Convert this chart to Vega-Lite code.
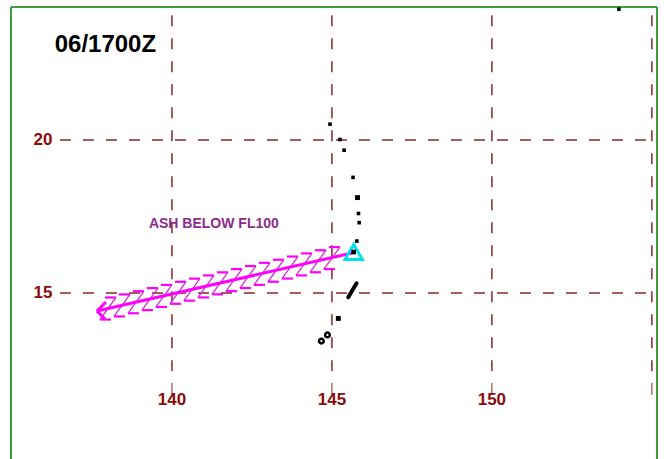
{
  "$schema": "https://vega.github.io/schema/vega-lite/v6.json",
  "width": 646,
  "height": 452,
  "padding": {"left": 11, "top": 7, "right": 7, "bottom": 0},
  "autosize": {"type": "none"},
  "background": "white",
  "config": {"view": {"stroke": null}},
  "datasets": {
    "grid": [
      {"lon": 140, "lat": 24.08, "lon2": 140, "lat2": 12.3},
      {"lon": 145, "lat": 24.08, "lon2": 145, "lat2": 12.3},
      {"lon": 150, "lat": 24.08, "lon2": 150, "lat2": 12.3},
      {"lon": 155, "lat": 24.08, "lon2": 155, "lat2": 12.3},
      {"lon": 136.5, "lat": 20, "lon2": 155.16, "lat2": 20},
      {"lon": 136.5, "lat": 15, "lon2": 155.16, "lat2": 15}
    ],
    "ticks": [
      {"lon": 140, "lat": 12.06, "lon2": 140, "lat2": 11.67},
      {"lon": 145, "lat": 12.06, "lon2": 145, "lat2": 11.67},
      {"lon": 150, "lat": 12.06, "lon2": 150, "lat2": 11.67},
      {"lon": 155, "lat": 12.06, "lon2": 155, "lat2": 11.67}
    ],
    "frame": [
      {"lon": 134.97, "lat": 9.575, "lon2": 134.97, "lat2": 24.35},
      {"lon": 134.97, "lat": 24.35, "lon2": 155.16, "lat2": 24.35},
      {"lon": 155.16, "lat": 9.575, "lon2": 155.16, "lat2": 24.35}
    ],
    "hatch_diag": [
      {"lon": 137.75, "lat": 14.134, "lon2": 138.25, "lat2": 14.854},
      {"lon": 138.188, "lat": 14.235, "lon2": 138.688, "lat2": 14.955},
      {"lon": 138.625, "lat": 14.339, "lon2": 139.125, "lat2": 15.059},
      {"lon": 139.063, "lat": 14.441, "lon2": 139.563, "lat2": 15.161},
      {"lon": 139.5, "lat": 14.545, "lon2": 140.0, "lat2": 15.265},
      {"lon": 139.938, "lat": 14.648, "lon2": 140.438, "lat2": 15.368},
      {"lon": 140.375, "lat": 14.751, "lon2": 140.875, "lat2": 15.471},
      {"lon": 140.813, "lat": 14.856, "lon2": 141.313, "lat2": 15.576},
      {"lon": 141.25, "lat": 14.957, "lon2": 141.75, "lat2": 15.677},
      {"lon": 141.688, "lat": 15.062, "lon2": 142.188, "lat2": 15.782},
      {"lon": 142.125, "lat": 15.163, "lon2": 142.625, "lat2": 15.883},
      {"lon": 142.563, "lat": 15.267, "lon2": 143.063, "lat2": 15.987},
      {"lon": 143.0, "lat": 15.369, "lon2": 143.5, "lat2": 16.089},
      {"lon": 143.438, "lat": 15.473, "lon2": 143.938, "lat2": 16.193},
      {"lon": 143.875, "lat": 15.575, "lon2": 144.375, "lat2": 16.295},
      {"lon": 144.313, "lat": 15.679, "lon2": 144.813, "lat2": 16.399},
      {"lon": 144.75, "lat": 15.781, "lon2": 145.25, "lat2": 16.501}
    ],
    "hatch_bar": [
      {"lon": 137.906, "lat": 14.854, "lon2": 138.25, "lat2": 14.854},
      {"lon": 137.75, "lat": 14.134, "lon2": 138.094, "lat2": 14.134},
      {"lon": 138.344, "lat": 14.955, "lon2": 138.688, "lat2": 14.955},
      {"lon": 138.188, "lat": 14.235, "lon2": 138.532, "lat2": 14.235},
      {"lon": 138.781, "lat": 15.059, "lon2": 139.125, "lat2": 15.059},
      {"lon": 138.625, "lat": 14.339, "lon2": 138.969, "lat2": 14.339},
      {"lon": 139.219, "lat": 15.161, "lon2": 139.563, "lat2": 15.161},
      {"lon": 139.063, "lat": 14.441, "lon2": 139.407, "lat2": 14.441},
      {"lon": 139.656, "lat": 15.265, "lon2": 140.0, "lat2": 15.265},
      {"lon": 139.5, "lat": 14.545, "lon2": 139.844, "lat2": 14.545},
      {"lon": 140.094, "lat": 15.368, "lon2": 140.438, "lat2": 15.368},
      {"lon": 139.938, "lat": 14.648, "lon2": 140.282, "lat2": 14.648},
      {"lon": 140.531, "lat": 15.471, "lon2": 140.875, "lat2": 15.471},
      {"lon": 140.375, "lat": 14.751, "lon2": 140.719, "lat2": 14.751},
      {"lon": 140.969, "lat": 15.576, "lon2": 141.313, "lat2": 15.576},
      {"lon": 140.813, "lat": 14.856, "lon2": 141.157, "lat2": 14.856},
      {"lon": 141.406, "lat": 15.677, "lon2": 141.75, "lat2": 15.677},
      {"lon": 141.25, "lat": 14.957, "lon2": 141.594, "lat2": 14.957},
      {"lon": 141.844, "lat": 15.782, "lon2": 142.188, "lat2": 15.782},
      {"lon": 141.688, "lat": 15.062, "lon2": 142.032, "lat2": 15.062},
      {"lon": 142.281, "lat": 15.883, "lon2": 142.625, "lat2": 15.883},
      {"lon": 142.125, "lat": 15.163, "lon2": 142.469, "lat2": 15.163},
      {"lon": 142.719, "lat": 15.987, "lon2": 143.063, "lat2": 15.987},
      {"lon": 142.563, "lat": 15.267, "lon2": 142.907, "lat2": 15.267},
      {"lon": 143.156, "lat": 16.089, "lon2": 143.5, "lat2": 16.089},
      {"lon": 143.0, "lat": 15.369, "lon2": 143.344, "lat2": 15.369},
      {"lon": 143.594, "lat": 16.193, "lon2": 143.938, "lat2": 16.193},
      {"lon": 143.438, "lat": 15.473, "lon2": 143.782, "lat2": 15.473},
      {"lon": 144.031, "lat": 16.295, "lon2": 144.375, "lat2": 16.295},
      {"lon": 143.875, "lat": 15.575, "lon2": 144.219, "lat2": 15.575},
      {"lon": 144.469, "lat": 16.399, "lon2": 144.813, "lat2": 16.399},
      {"lon": 144.313, "lat": 15.679, "lon2": 144.657, "lat2": 15.679},
      {"lon": 144.906, "lat": 16.501, "lon2": 145.25, "lat2": 16.501},
      {"lon": 144.75, "lat": 15.781, "lon2": 145.094, "lat2": 15.781}
    ],
    "ash_axis": [
      {"lon": 137.656, "lat": 14.412, "lon2": 145.625, "lat2": 16.307},
      {"lon": 137.656, "lat": 14.412, "lon2": 137.938, "lat2": 14.706},
      {"lon": 137.656, "lat": 14.412, "lon2": 137.906, "lat2": 14.150}
    ],
    "islands_small": [
      {"name": "Minami-Torishima", "lon": 153.97, "lat": 24.28},
      {"name": "Farallon de Pajaros", "lon": 144.94, "lat": 20.52},
      {"name": "Maug", "lon": 145.25, "lat": 20.02},
      {"name": "Asuncion", "lon": 145.38, "lat": 19.67},
      {"name": "Agrihan", "lon": 145.66, "lat": 18.78},
      {"name": "Alamagan", "lon": 145.83, "lat": 17.6},
      {"name": "Guguan", "lon": 145.85, "lat": 17.3},
      {"name": "Sarigan", "lon": 145.78, "lat": 16.7}
    ],
    "islands_med": [
      {"name": "Pagan", "lon": 145.8, "lat": 18.12},
      {"name": "Rota", "lon": 145.2, "lat": 14.17}
    ],
    "saipan": [
      {"name": "Saipan-Tinian", "lon": 145.77, "lat": 15.32, "lon2": 145.51, "lat2": 14.86}
    ],
    "guam": [
      {"name": "Guam", "lon": 144.67, "lat": 13.43},
      {"name": "Guam", "lon": 144.86, "lat": 13.63}
    ],
    "volcano": [
      {"name": "Anatahan", "lon": 145.68, "lat": 16.34}
    ],
    "lat_labels": [
      {"label": "20", "lon": 135.97, "lat": 20},
      {"label": "15", "lon": 135.97, "lat": 15}
    ],
    "lon_labels": [
      {"label": "140", "lon": 140, "lat": 11.5},
      {"label": "145", "lon": 145, "lat": 11.5},
      {"label": "150", "lon": 150, "lat": 11.5}
    ],
    "time_label": [
      {"label": "06/1700Z", "lon": 137.92, "lat": 23.1}
    ],
    "ash_label": [
      {"label": "ASH BELOW FL100", "lon": 141.31, "lat": 17.25}
    ]
  },
  "encoding": {
    "x": {"field": "lon", "type": "quantitative", "scale": {"domain": [134.97, 155.16], "nice": false, "zero": false}, "axis": null},
    "y": {"field": "lat", "type": "quantitative", "scale": {"domain": [9.575, 24.35], "nice": false, "zero": false}, "axis": null}
  },
  "layer": [
    {
      "data": {"name": "grid"},
      "mark": {"type": "rule", "color": "#852828", "strokeWidth": 1.5, "strokeDash": [11, 12]},
      "encoding": {"x2": {"field": "lon2"}, "y2": {"field": "lat2"}}
    },
    {
      "data": {"name": "ticks"},
      "mark": {"type": "rule", "color": "#852828", "strokeWidth": 1},
      "encoding": {"x2": {"field": "lon2"}, "y2": {"field": "lat2"}}
    },
    {
      "data": {"name": "frame"},
      "mark": {"type": "rule", "color": "#3c9f3c", "strokeWidth": 2},
      "encoding": {"x2": {"field": "lon2"}, "y2": {"field": "lat2"}}
    },
    {
      "data": {"name": "hatch_diag"},
      "mark": {"type": "rule", "color": "#cc33cc", "strokeWidth": 1.3},
      "encoding": {"x2": {"field": "lon2"}, "y2": {"field": "lat2"}}
    },
    {
      "data": {"name": "hatch_bar"},
      "mark": {"type": "rule", "color": "#ff00ff", "strokeWidth": 2.2},
      "encoding": {"x2": {"field": "lon2"}, "y2": {"field": "lat2"}}
    },
    {
      "data": {"name": "ash_axis"},
      "mark": {"type": "rule", "color": "#ff00ff", "strokeWidth": 3},
      "encoding": {"x2": {"field": "lon2"}, "y2": {"field": "lat2"}}
    },
    {
      "data": {"name": "islands_small"},
      "mark": {"type": "point", "shape": "square", "filled": true, "color": "black", "size": 13, "opacity": 1}
    },
    {
      "data": {"name": "islands_med"},
      "mark": {"type": "point", "shape": "square", "filled": true, "color": "black", "size": 24, "opacity": 1}
    },
    {
      "data": {"name": "saipan"},
      "mark": {"type": "rule", "color": "black", "strokeWidth": 4, "strokeCap": "round"},
      "encoding": {"x2": {"field": "lon2"}, "y2": {"field": "lat2"}}
    },
    {
      "data": {"name": "guam"},
      "mark": {"type": "point", "shape": "circle", "filled": false, "color": "black", "strokeWidth": 2.5, "size": 22, "opacity": 1}
    },
    {
      "data": {"name": "volcano"},
      "mark": {"type": "point", "shape": "triangle-up", "filled": false, "color": "#00e0e8", "strokeWidth": 3, "size": 300, "opacity": 1}
    },
    {
      "data": {"name": "volcano"},
      "mark": {"type": "point", "shape": "square", "filled": true, "color": "black", "size": 22, "opacity": 1}
    },
    {
      "data": {"name": "lat_labels"},
      "mark": {"type": "text", "font": "Liberation Sans", "fontSize": 17, "fontWeight": "bold", "color": "#8b0a0a", "align": "center", "baseline": "middle"},
      "encoding": {"text": {"field": "label"}}
    },
    {
      "data": {"name": "lon_labels"},
      "mark": {"type": "text", "font": "Liberation Sans", "fontSize": 17, "fontWeight": "bold", "color": "#8b0a0a", "align": "center", "baseline": "middle"},
      "encoding": {"text": {"field": "label"}}
    },
    {
      "data": {"name": "time_label"},
      "mark": {"type": "text", "font": "Liberation Sans", "fontSize": 24, "fontWeight": "bold", "color": "black", "align": "center", "baseline": "middle"},
      "encoding": {"text": {"field": "label"}}
    },
    {
      "data": {"name": "ash_label"},
      "mark": {"type": "text", "font": "Liberation Sans", "fontSize": 14, "fontWeight": "bold", "color": "#8e2a8e", "align": "center", "baseline": "middle"},
      "encoding": {"text": {"field": "label"}}
    }
  ]
}
